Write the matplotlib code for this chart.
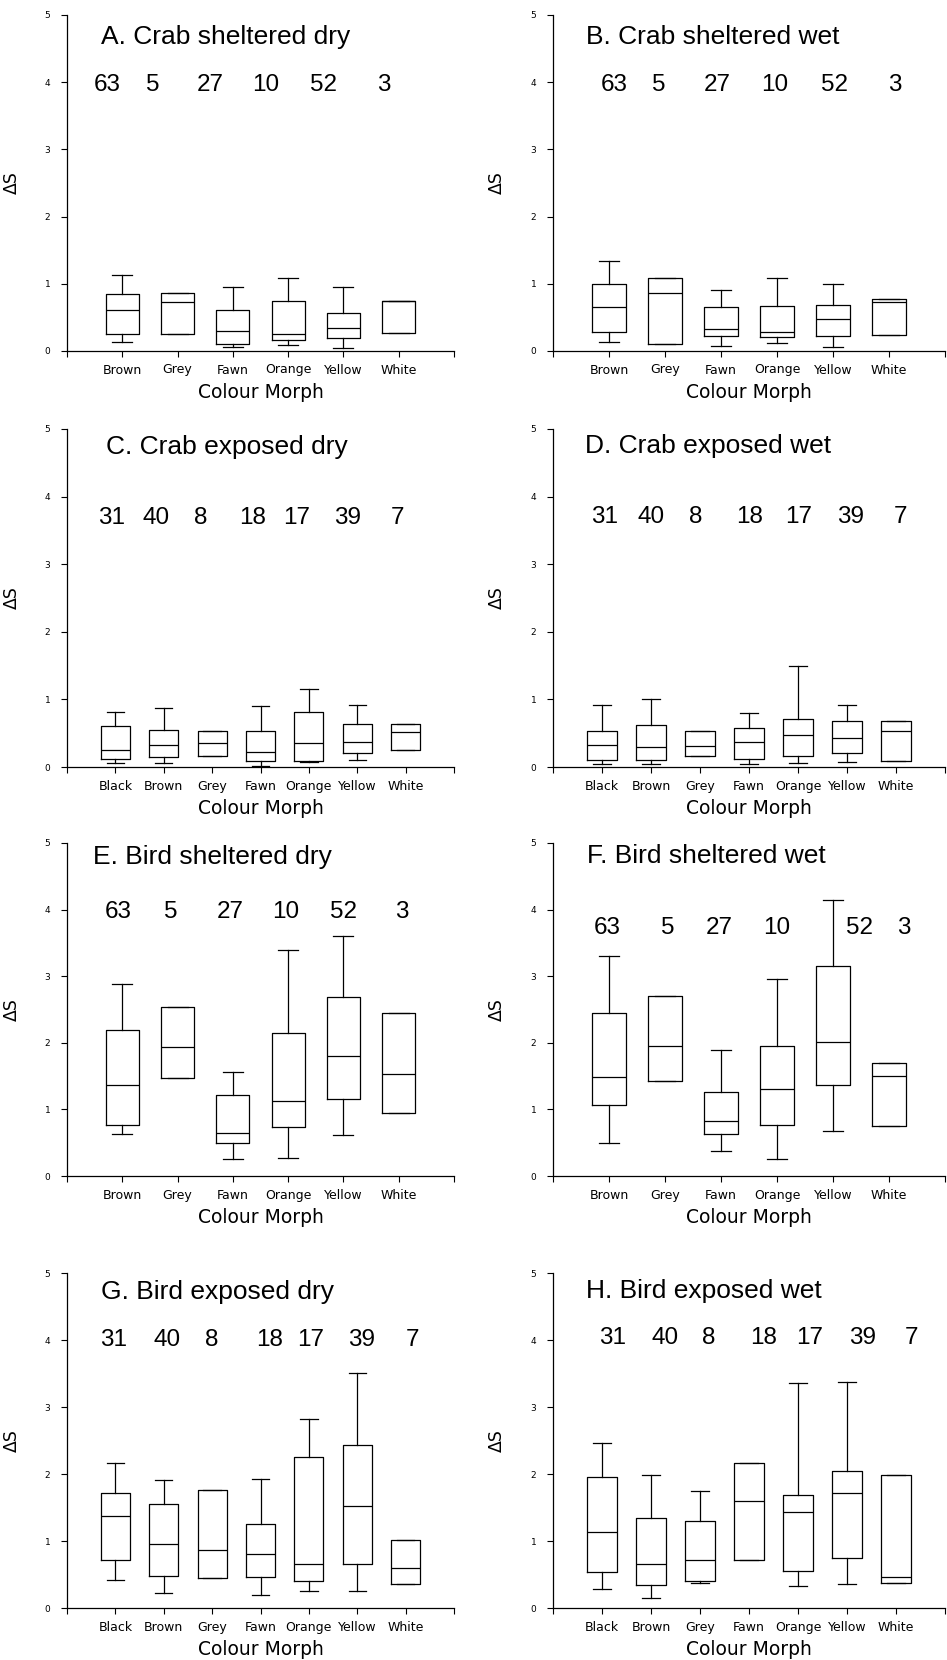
import matplotlib
matplotlib.use('Agg')
import matplotlib.pyplot as plt

# Morphs and sample sizes
morphs_sheltered = ['Brown', 'Grey', 'Fawn', 'Orange', 'Yellow', 'White']
morphs_exposed = ['Black', 'Brown', 'Grey', 'Fawn', 'Orange', 'Yellow', 'White']
n_sheltered = [63, 5, 27, 10, 52, 3]
n_exposed = [31, 40, 8, 18, 17, 39, 7]

# Box values per morph: (whisker low, q1, median, q3, whisker high); None = no whisker
crab_sheltered_dry = [(0.14, 0.25, 0.61, 0.85, 1.13), (None, 0.26, 0.73, 0.86, None),
                      (0.065, 0.11, 0.30, 0.61, 0.95), (0.09, 0.16, 0.25, 0.74, 1.09),
                      (0.05, 0.20, 0.34, 0.57, 0.95), (None, 0.27, 0.74, 0.75, None)]
crab_sheltered_wet = [(0.13, 0.28, 0.66, 1.00, 1.34), (None, 0.10, 0.87, 1.09, None),
                      (0.07, 0.22, 0.33, 0.65, 0.91), (0.12, 0.21, 0.29, 0.67, 1.09),
                      (0.06, 0.23, 0.47, 0.69, 1.00), (None, 0.24, 0.73, 0.78, None)]
crab_exposed_dry = [(0.06, 0.12, 0.25, 0.60, 0.81), (0.06, 0.15, 0.32, 0.55, 0.87),
                    (None, 0.17, 0.35, 0.53, None), (0.015, 0.09, 0.22, 0.53, 0.90),
                    (0.075, 0.09, 0.36, 0.81, 1.15), (0.10, 0.21, 0.37, 0.63, 0.91),
                    (None, 0.25, 0.52, 0.63, None)]
crab_exposed_wet = [(0.04, 0.11, 0.32, 0.53, 0.91), (0.05, 0.11, 0.30, 0.62, 1.00),
                    (None, 0.16, 0.31, 0.53, None), (0.05, 0.12, 0.37, 0.58, 0.80),
                    (0.06, 0.16, 0.48, 0.71, 1.49), (0.07, 0.21, 0.43, 0.68, 0.91),
                    (None, 0.09, 0.53, 0.68, None)]
bird_sheltered_dry = [(0.63, 0.77, 1.36, 2.19, 2.89), (None, 1.47, 1.94, 2.54, None),
                      (0.25, 0.50, 0.65, 1.21, 1.56), (0.27, 0.74, 1.13, 2.15, 3.40),
                      (0.62, 1.16, 1.80, 2.69, 3.61), (None, 0.95, 1.53, 2.45, None)]
bird_sheltered_wet = [(0.49, 1.07, 1.49, 2.44, 3.31), (None, 1.42, 1.95, 2.71, None),
                      (0.38, 0.63, 0.82, 1.26, 1.89), (0.26, 0.77, 1.31, 1.95, 2.96),
                      (0.67, 1.36, 2.01, 3.15, 4.14), (None, 0.75, 1.50, 1.69, None)]
bird_exposed_dry = [(0.42, 0.72, 1.37, 1.72, 2.16), (0.23, 0.48, 0.95, 1.55, 1.91),
                    (None, 0.45, 0.86, 1.76, None), (0.19, 0.46, 0.80, 1.25, 1.93),
                    (0.26, 0.41, 0.66, 2.26, 2.82), (0.26, 0.65, 1.52, 2.44, 3.51),
                    (None, 0.36, 0.59, 1.02, None)]
bird_exposed_wet = [(0.28, 0.54, 1.13, 1.95, 2.47), (0.15, 0.34, 0.65, 1.34, 1.98),
                    (0.38, 0.41, 0.72, 1.30, 1.75), (None, 0.71, 1.59, 2.17, None),
                    (0.33, 0.55, 1.43, 1.69, 3.36), (0.36, 0.75, 1.72, 2.04, 3.37),
                    (None, 0.38, 0.46, 1.99, None)]

# panel: title, box data, morphs, counts, count x / y, title x / y (axes frac)
panels = [
    ('A. Crab sheltered dry', crab_sheltered_dry, morphs_sheltered, n_sheltered,
     [0.73, 1.55, 2.60, 3.60, 4.64, 5.73], 3.96, 0.088, 0.934),
    ('B. Crab sheltered wet', crab_sheltered_wet, morphs_sheltered, n_sheltered,
     [1.09, 1.88, 2.94, 3.95, 5.03, 6.10], 3.96, 0.085, 0.935),
    ('C. Crab exposed dry', crab_exposed_dry, morphs_exposed, n_exposed,
     [0.92, 1.84, 2.76, 3.84, 4.74, 5.81, 6.83], 3.68, 0.102, 0.947),
    ('D. Crab exposed wet', crab_exposed_wet, morphs_exposed, n_exposed,
     [1.05, 2.00, 2.92, 4.01, 5.02, 6.07, 7.10], 3.70, 0.082, 0.950),
    ('E. Bird sheltered dry', bird_sheltered_dry, morphs_sheltered, n_sheltered,
     [0.93, 1.87, 2.95, 3.95, 5.00, 6.05], 3.96, 0.067, 0.958),
    ('F. Bird sheltered wet', bird_sheltered_wet, morphs_sheltered, n_sheltered,
     [0.97, 2.05, 2.96, 3.99, 5.48, 6.27], 3.72, 0.087, 0.960),
    ('G. Bird exposed dry', bird_exposed_dry, morphs_exposed, n_exposed,
     [0.96, 2.06, 2.99, 4.18, 5.03, 6.09, 7.15], 4.00, 0.088, 0.943),
    ('H. Bird exposed wet', bird_exposed_wet, morphs_exposed, n_exposed,
     [1.21, 2.28, 3.17, 4.29, 5.24, 6.31, 7.32], 4.03, 0.083, 0.946),
]

W, H = 947, 1660
fig = plt.figure(figsize=(W / 100, H / 100), dpi=100)

col_px = [(67, 454), (553, 945)]
row_px = [(15, 351), (429, 767), (843, 1176), (1273, 1608)]

line_kw = dict(color='black', linewidth=0.9)

for i, (title, boxes, morphs, counts, cx, cy, tx, ty) in enumerate(panels):
    r, c = divmod(i, 2)
    x0, x1 = col_px[c]
    y0, y1 = row_px[r]
    ax = fig.add_axes([x0 / W, 1 - y1 / H, (x1 - x0) / W, (y1 - y0) / H])

    stats = []
    for lo, q1, med, q3, hi in boxes:
        stats.append(dict(med=med, q1=q1, q3=q3,
                          whislo=q1 if lo is None else lo,
                          whishi=q3 if hi is None else hi, fliers=[]))
    pos = list(range(1, len(morphs) + 1))
    ax.bxp(stats, positions=pos, widths=0.6, capwidths=0.36, showfliers=False,
           boxprops=line_kw, medianprops=line_kw, whiskerprops=line_kw, capprops=line_kw)

    ax.set_xlim(0, len(morphs) + 1)
    ax.set_ylim(0, 5)
    ax.set_xticks(range(0, len(morphs) + 2))
    ax.set_xticklabels([''] + morphs + [''], fontsize=9, family='DejaVu Sans')
    ax.set_yticks(range(6))
    ax.set_yticklabels([str(v) for v in range(6)], fontsize=6.5)
    ax.tick_params(axis='x', direction='out', length=4, width=0.8, pad=5)
    ax.tick_params(axis='y', direction='out', length=4, width=0.8, pad=8)
    for s in ['top', 'right']:
        ax.spines[s].set_visible(False)
    for s in ['left', 'bottom']:
        ax.spines[s].set_linewidth(0.9)

    ax.set_ylabel('ΔS', fontsize=12.5, family='DejaVu Sans')
    ax.yaxis.set_label_coords(-0.12, 0.5)
    ax.set_xlabel('Colour Morph', fontsize=13.5, family='DejaVu Sans')
    ax.xaxis.set_label_coords(0.5, -0.095)

    ax.text(tx, ty, title, transform=ax.transAxes, ha='left', va='center',
            fontsize=19, family='Liberation Sans')
    for x, n in zip(cx, counts):
        ax.text(x, cy, str(n), ha='center', va='center', fontsize=17.5,
                family='Liberation Sans')

fig.savefig('out.png', dpi=100)
